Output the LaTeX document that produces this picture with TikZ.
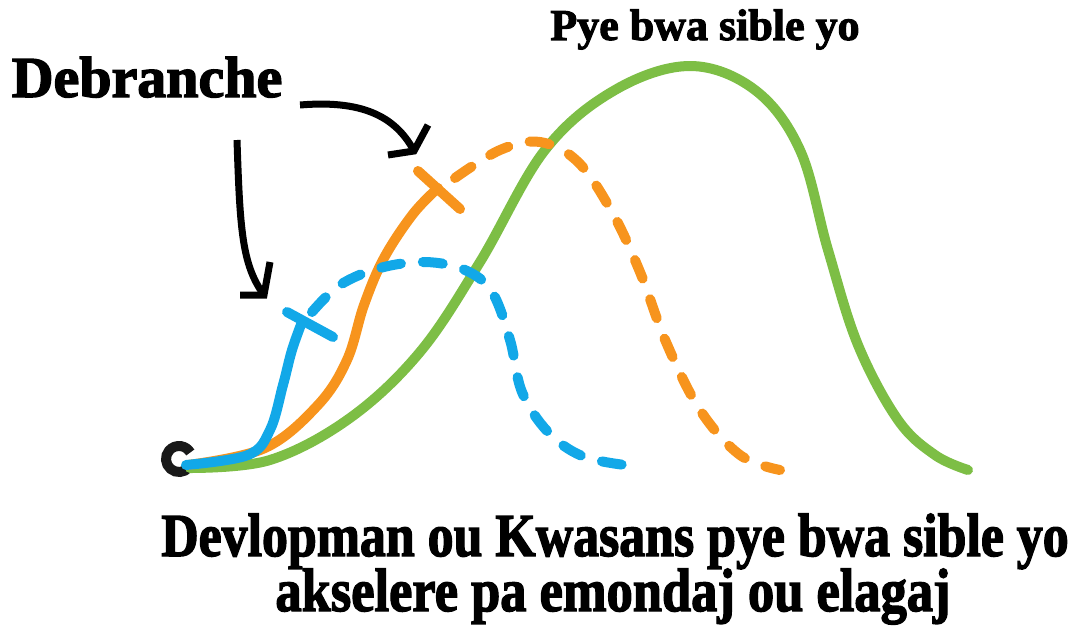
\documentclass[tikz,border=0pt]{standalone}
\usepackage{fontspec}
\setmainfont{Liberation Serif}
\newfontfamily\hvy{Liberation Serif}[BoldFeatures={FakeBold=2.4}]
\usetikzlibrary{arrows.meta}
\definecolor{cblue}{HTML}{12A8E8}
\definecolor{corange}{HTML}{F7941D}
\definecolor{cgreen}{HTML}{7DBE45}
\tikzset{
  curve/.style={line width=10pt, line cap=round, line join=round},
  dashcurve/.style={curve, dash pattern=on 20pt off 22pt},
  cutmark/.style={line width=10pt, line cap=round},
  pointer/.style={line width=7pt, line cap=butt, line join=miter},
  lbl/.style={inner sep=0pt, anchor=base}
}
\begin{document}
\begin{tikzpicture}[x=1pt,y=-1pt]
\useasboundingbox (0,0) rectangle (1074,626);
% start circle
\draw[line width=10pt, black!90] ([shift={(40:13)}]179,459) arc[start angle=40, end angle=330, radius=13];
% green curve
\draw[curve, cgreen] plot[smooth, tension=0.6] coordinates {(190,468) (270,460) (350,418) (420,352) (480,262) (545,150) (615,90) (690,66) (755,90) (800,150) (828,250) (858,345) (898,420) (935,455) (968,470)};
% orange
\draw[curve, corange] plot[smooth, tension=0.6] coordinates {(188,465) (265,448) (318,405) (347,360) (364,305) (384,258) (413,214) (438,188)};
\draw[dashcurve, corange] plot[smooth, tension=0.6] coordinates {(455,178) (500,150) (540,142) (578,162) (612,212) (640,272) (666,342) (700,410) (740,455) (780,470)};
\draw[cutmark, corange] (418,171) -- (460,209);
% blue
\draw[curve, cblue] plot[smooth, tension=0.6] coordinates {(186,465) (248,455) (270,430) (283,385) (292,350) (302,322)};
\draw[dashcurve, cblue] plot[smooth, tension=0.6] coordinates {(312,312) (340,285) (380,268) (425,262) (465,270) (492,292) (510,340) (522,392) (548,432) (582,456) (625,465)};
\draw[cutmark, cblue] (287,312) -- (333,337);
% labels
\node[lbl, font=\hvy\bfseries\fontsize{58}{60}\selectfont] (deb) at (147,97) {Debranche};
\node[lbl, font=\hvy\bfseries\fontsize{44}{46}\selectfont] (pye) at (705,40) {Pye bwa sible yo};
\node[lbl, font=\hvy\bfseries\fontsize{61}{62}\selectfont, xscale=0.85] (l1) at (615,556) {Devlopman ou Kwasans pye bwa sible yo};
\node[lbl, font=\hvy\bfseries\fontsize{61}{62}\selectfont, xscale=0.86] (l2) at (613,611) {akselere pa emondaj ou elagaj};
% arrows
\coordinate (a1s) at (237,140);
\coordinate (a1e) at (264,295);
\draw[pointer] (a1s) .. controls (240,230) and (242,265) .. (a1e);
\draw[pointer] (240,295) -- (a1e) -- (270,262);
\coordinate (a2s) at (300,105);
\coordinate (a2e) at (414,151);
\draw[pointer] (a2s) .. controls (360,100) and (395,115) .. (a2e);
\draw[pointer] (388,155) -- (a2e) -- (428,125);
\end{tikzpicture}
\end{document}
